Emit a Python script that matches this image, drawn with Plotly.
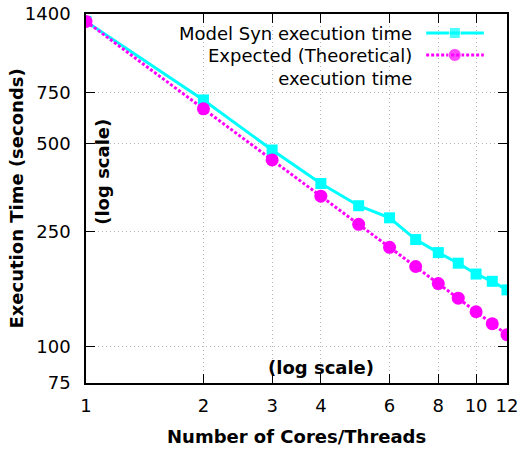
import plotly.graph_objects as go

cores = [1, 2, 3, 4, 5, 6, 7, 8, 9, 10, 11, 12]
model_syn_time = [1320, 708, 476, 365, 306, 278, 234, 211, 194, 178, 168, 157]
expected_time = [1320, 660, 440, 330, 264, 220, 189, 165, 147, 132, 120, 110]

x_ticks = [1, 2, 3, 4, 6, 8, 10, 12]
y_ticks = [75, 100, 250, 500, 750, 1400]

legend_labels = ["Model Syn execution time", "Expected (Theoretical)<br>execution time"]

CYAN = "#00FFFF"
MAGENTA = "#FF00FF"
FONT = "DejaVu Sans"

fig = go.Figure()

fig.add_trace(go.Scatter(
    x=cores, y=model_syn_time, mode="lines+markers",
    line=dict(color=CYAN, width=3),
    marker=dict(symbol="square", size=11, color=CYAN),
    showlegend=False,
))
fig.add_trace(go.Scatter(
    x=cores, y=expected_time, mode="lines+markers",
    line=dict(color=MAGENTA, width=3, dash="3px,2px"),
    marker=dict(symbol="circle", size=13, color=MAGENTA),
    showlegend=False,
))

# Legend samples drawn on an overlay axis (paper-like 0..1)
lx = [0.808, 0.876, 0.945]
fig.add_trace(go.Scatter(
    x=lx, y=[0.9485] * 3, xaxis="x2", yaxis="y2", mode="lines+markers",
    line=dict(color=CYAN, width=3),
    marker=dict(symbol="square", size=[0, 11, 0], color=CYAN),
    showlegend=False, hoverinfo="skip",
))
fig.add_trace(go.Scatter(
    x=lx, y=[0.889] * 3, xaxis="x2", yaxis="y2", mode="lines+markers",
    line=dict(color=MAGENTA, width=3, dash="3px,2px"),
    marker=dict(symbol="circle", size=[0, 13, 0], color=MAGENTA),
    showlegend=False, hoverinfo="skip",
))

axis_common = dict(
    showline=True, linecolor="black", linewidth=1.5, mirror="ticks",
    ticks="inside", ticklen=9, tickcolor="black", tickwidth=1,
    showgrid=True, gridcolor="#b4b4b4", griddash="1px,3px", gridwidth=1,
    zeroline=False, automargin=False,
    tickfont=dict(family=FONT, size=18, color="black"),
)

fig.update_layout(
    width=522, height=450,
    margin=dict(l=86, r=15, t=14, b=67, autoexpand=False),
    paper_bgcolor="white", plot_bgcolor="white",
    font=dict(family=FONT, size=18, color="black"),
    xaxis=dict(
        type="log", range=[0, 1.0792],
        tickvals=x_ticks, ticktext=[str(v) for v in x_ticks],
        ticklabelstandoff=6,
        **axis_common,
    ),
    yaxis=dict(
        type="log", range=[1.8751, 3.1461],
        tickvals=y_ticks, ticktext=[str(v) for v in y_ticks],
        ticklabelstandoff=10,
        **axis_common,
    ),
    xaxis2=dict(overlaying="x", range=[0, 1], visible=False, domain=[0, 1]),
    yaxis2=dict(overlaying="y", range=[0, 1], visible=False),
    showlegend=False,
)

annotations = [
    dict(text=legend_labels[0], x=0.779, y=0.9485, xanchor="right", yanchor="middle"),
    dict(text=legend_labels[1], x=0.779, y=0.889, xanchor="right", yanchor="top", yshift=12),
    dict(text="<b>Execution Time (seconds)</b>", x=-0.166, y=0.5, textangle=-90,
         xanchor="center", yanchor="middle"),
    dict(text="<b>Number of Cores/Threads</b>", x=0.5, y=-0.146,
         xanchor="center", yanchor="middle"),
    dict(text="<b>(log scale)</b>", x=0.040, y=0.572, textangle=-90,
         xanchor="center", yanchor="middle"),
    dict(text="<b>(log scale)</b>", x=0.558, y=0.043,
         xanchor="center", yanchor="middle"),
]
for a in annotations:
    fig.add_annotation(xref="paper", yref="paper", showarrow=False, align="right",
                       font=dict(family=FONT, size=18, color="black"), **a)

fig.write_html(
    "out.html",
    config={"displayModeBar": False},
    post_script="document.body.style.margin='0';document.body.style.overflow='hidden';",
)
